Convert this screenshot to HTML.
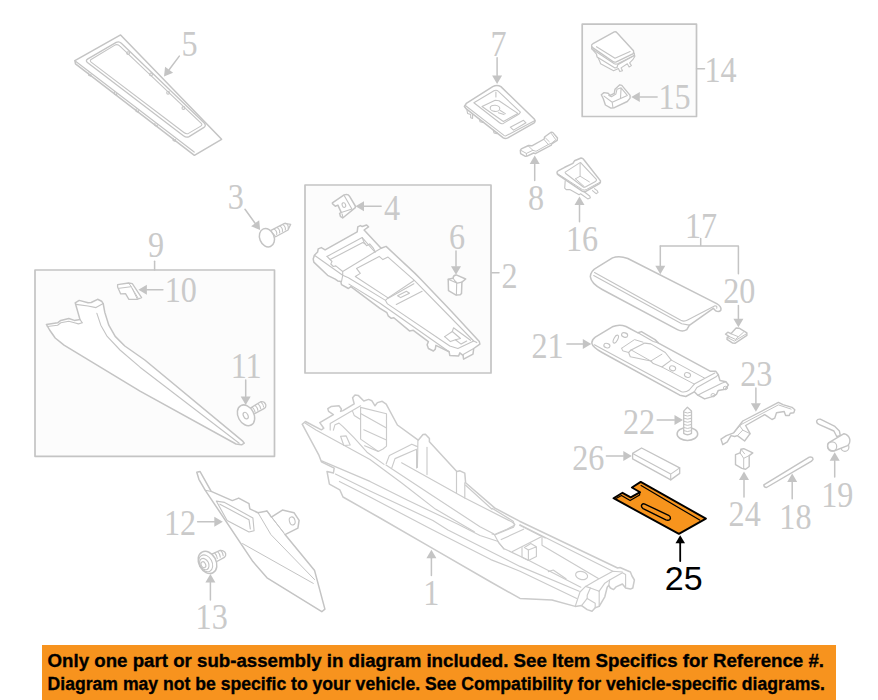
<!DOCTYPE html>
<html lang="en"><head><meta charset="utf-8"><title>Parts diagram</title>
<style>
html,body{margin:0;padding:0;background:#fff;}
body{width:878px;height:700px;overflow:hidden;position:relative;font-family:"Liberation Sans",sans-serif;}
svg{position:absolute;left:0;top:0;display:block;}
svg text{font-family:"Liberation Serif",serif;}
svg path,svg rect,svg circle,svg ellipse{stroke-linejoin:round;stroke-linecap:round;}
.banner{position:absolute;left:42px;top:645px;width:794px;height:55px;background:#f7931e;color:#000;font-family:"Liberation Sans",sans-serif;font-weight:bold;}
.banner svg text{font-family:"Liberation Sans",sans-serif;font-weight:bold;}
</style></head><body>
<svg width="878" height="700" viewBox="0 0 878 700">
<rect x="35" y="270" width="239.5" height="186.3" fill="#fcfcfc" stroke="#c4c4c4" stroke-width="1.7"/>
<rect x="305" y="185" width="186" height="188" fill="#fcfcfc" stroke="#c4c4c4" stroke-width="1.7"/>
<rect x="582.2" y="24.2" width="114.3" height="92.3" fill="#fcfcfc" stroke="#c4c4c4" stroke-width="1.7"/>
<text transform="translate(181.6 56.0) scale(0.92 1)" font-size="35" fill="#cacaca">5</text>
<text transform="translate(490.5 56.0) scale(0.92 1)" font-size="35" fill="#cacaca">7</text>
<text transform="translate(704.5 81.5) scale(0.92 1)" font-size="35" fill="#cacaca">14</text>
<text transform="translate(658.4 109.3) scale(0.92 1)" font-size="35" fill="#cacaca">15</text>
<text transform="translate(227.8 209.0) scale(0.92 1)" font-size="35" fill="#cacaca">3</text>
<text transform="translate(383.9 219.9) scale(0.92 1)" font-size="35" fill="#cacaca">4</text>
<text transform="translate(449.0 248.5) scale(0.92 1)" font-size="35" fill="#cacaca">6</text>
<text transform="translate(501.5 288.0) scale(0.92 1)" font-size="35" fill="#cacaca">2</text>
<text transform="translate(528.1 210.2) scale(0.92 1)" font-size="35" fill="#cacaca">8</text>
<text transform="translate(565.9 251.3) scale(0.92 1)" font-size="35" fill="#cacaca">16</text>
<text transform="translate(685.0 237.7) scale(0.92 1)" font-size="35" fill="#cacaca">17</text>
<text transform="translate(723.2 303.1) scale(0.92 1)" font-size="35" fill="#cacaca">20</text>
<text transform="translate(531.5 358.1) scale(0.92 1)" font-size="35" fill="#cacaca">21</text>
<text transform="translate(147.9 257.2) scale(0.92 1)" font-size="35" fill="#cacaca">9</text>
<text transform="translate(164.7 302.0) scale(0.92 1)" font-size="35" fill="#cacaca">10</text>
<text transform="translate(230.7 377.7) scale(0.92 1)" font-size="35" fill="#cacaca">11</text>
<text transform="translate(163.9 535.2) scale(0.92 1)" font-size="35" fill="#cacaca">12</text>
<text transform="translate(195.6 629.0) scale(0.92 1)" font-size="35" fill="#cacaca">13</text>
<text transform="translate(423.3 605.2) scale(0.92 1)" font-size="35" fill="#cacaca">1</text>
<text transform="translate(623.0 434.1) scale(0.92 1)" font-size="35" fill="#cacaca">22</text>
<text transform="translate(572.2 469.6) scale(0.92 1)" font-size="35" fill="#cacaca">26</text>
<text transform="translate(740.2 386.3) scale(0.92 1)" font-size="35" fill="#cacaca">23</text>
<text transform="translate(728.6 525.6) scale(0.92 1)" font-size="35" fill="#cacaca">24</text>
<text transform="translate(779.3 528.5) scale(0.92 1)" font-size="35" fill="#cacaca">18</text>
<text transform="translate(821.2 507.4) scale(0.92 1)" font-size="35" fill="#cacaca">19</text>
<text transform="translate(664.8 589.7) scale(1 1)" font-size="34" fill="#000" style="font-family:'Liberation Sans',sans-serif">25</text>
<path d="M 613.5 498.2 L 622.5 492.8 L 630.7 497.4 L 640.1 492.2 L 631.9 487.5 L 640.7 481.9 L 705.9 518.6 L 678.9 533.9 Z" fill="#f7941d" stroke="#000" stroke-width="1.9"/>
<path d="M 641.1 485.5 L 699.7 520.1 M 616.5 498.3 L 621.5 495.5 L 630.1 500.6 L 639.6 495.0 L 639.8 492.5" fill="none" stroke="#000" stroke-width="1.2"/>
<path d="M 644.8 504.1 L 668.6 515.3 Q 671.4 517.3 669.9 519.4 Q 668.4 520.9 665.9 519.9 L 643.1 508.6 Q 640.6 506.8 641.8 504.8 Q 643.1 503.3 644.8 504.1 Z" fill="none" stroke="#000" stroke-width="1.4"/>
<path d="M680.2 561.0 L680.2 543.2" stroke="#000" stroke-width="1.8" fill="none"/>
<path d="M680.2 535.2 L685.0 543.2 L675.5 543.2 Z" fill="#000" stroke="none"/>
<path d="M 120.6 34.9 L 74.9 60.7 L 75.5 63.9 L 194.4 155.3 L 221.6 139.3 Z" fill="#fff" stroke="#c4c4c4" stroke-width="1.5"/>
<path d="M 74.9 60.7 L 194.2 152.1" fill="none" stroke="#c4c4c4" stroke-width="1.2"/>
<path d="M 116.2 42.4 Q 119.0 41.0 121.3 43.3 L 204.5 123.3 Q 206.3 125.6 204.0 127.4 L 189.1 136.6 Q 186.4 137.9 183.4 135.7 L 87.4 62.5 Q 85.1 60.7 87.9 58.9 Z" fill="none" stroke="#c4c4c4" stroke-width="1.3"/>
<path d="M 114.9 45.1 Q 117.6 43.8 119.9 46.1 L 201.3 123.3 Q 202.6 125.1 200.8 126.1 L 188.5 133.4 Q 186.2 134.3 183.9 132.5 L 91.1 62.1 Q 89.3 60.7 91.5 59.3 Z" fill="none" stroke="#c4c4c4" stroke-width="1.1"/>
<path d="M 88.6 73.0 l 0.0 2.3 l 2.3 0.9 l 0.0 -1.8" fill="none" stroke="#c4c4c4" stroke-width="1.1"/>
<path d="M 114.4 91.8 l 0.0 2.3 l 2.3 0.9 l 0.0 -1.8" fill="none" stroke="#c4c4c4" stroke-width="1.1"/>
<path d="M 136.1 109.1 l 0.0 2.3 l 2.3 0.9 l 0.0 -1.8" fill="none" stroke="#c4c4c4" stroke-width="1.1"/>
<path d="M 154.9 123.3 l 0.0 2.3 l 2.3 0.9 l 0.0 -1.8" fill="none" stroke="#c4c4c4" stroke-width="1.1"/>
<path d="M 173.1 138.2 l 0.0 2.3 l 2.3 0.9 l 0.0 -1.8" fill="none" stroke="#c4c4c4" stroke-width="1.1"/>
<circle cx="128.1" cy="53.1" r="1.4" fill="none" stroke="#c4c4c4" stroke-width="1.1"/>
<circle cx="151.0" cy="74.4" r="1.4" fill="none" stroke="#c4c4c4" stroke-width="1.1"/>
<circle cx="168.1" cy="92.7" r="1.4" fill="none" stroke="#c4c4c4" stroke-width="1.1"/>
<circle cx="183.4" cy="108.0" r="1.4" fill="none" stroke="#c4c4c4" stroke-width="1.1"/>
<path d="M179.3 56.1 L169.1 69.7" stroke="#c4c4c4" stroke-width="1.5" fill="none"/>
<path d="M164.0 76.5 L165.1 66.7 L173.1 72.7 Z" fill="#c4c4c4" stroke="none"/>
<path d="M 270.5 230.7 L 284.6 223.3 L 290.7 224.3 L 288.0 230.0 L 275.7 236.8 Z" fill="#fff" stroke="#c4c4c4" stroke-width="1.3"/>
<path d="M 274.3 229.1 Q 277.4 231.2 276.7 234.5" fill="none" stroke="#c4c4c4" stroke-width="1.1"/>
<path d="M 277.2 227.6 Q 280.3 229.7 279.6 233.0" fill="none" stroke="#c4c4c4" stroke-width="1.1"/>
<path d="M 280.0 226.1 Q 283.1 228.2 282.4 231.5" fill="none" stroke="#c4c4c4" stroke-width="1.1"/>
<path d="M 282.9 224.6 Q 286.0 226.7 285.3 230.0" fill="none" stroke="#c4c4c4" stroke-width="1.1"/>
<path d="M 285.8 223.1 Q 288.9 225.2 288.2 228.5" fill="none" stroke="#c4c4c4" stroke-width="1.1"/>
<ellipse cx="266.9" cy="237.7" rx="7.2" ry="9.5" transform="rotate(-22 266.9 237.7)" fill="#fff" stroke="#c4c4c4" stroke-width="1.5"/>
<path d="M245.0 209.3 L255.1 223.2" stroke="#c4c4c4" stroke-width="1.5" fill="none"/>
<path d="M260.1 230.1 L251.1 226.2 L259.2 220.3 Z" fill="#c4c4c4" stroke="none"/>
<path d="M 332.4 202.9 L 344.1 194.9 Q 347.9 193.5 349.6 196.3 L 355.3 206.0 L 355.3 207.7 L 342.7 218.0 L 340.4 216.3 L 339.6 213.4 L 341.3 212.6 L 337.9 205.1 L 335.3 206.3 L 332.4 203.6 Z" fill="#fff" stroke="#c4c4c4" stroke-width="1.5"/>
<path d="M 344.3 195.7 L 351.9 209.1 M 341.3 212.6 L 351.9 209.1 M 342.1 214.0 L 342.8 216.9" fill="none" stroke="#c4c4c4" stroke-width="1.1"/>
<ellipse cx="343.9" cy="205.1" rx="1.7" ry="2.4" transform="rotate(-20 343.9 205.1)" fill="none" stroke="#c4c4c4" stroke-width="1.1"/>
<path d="M381.1 206.3 L364.0 206.3" stroke="#c4c4c4" stroke-width="1.5" fill="none"/>
<path d="M355.5 206.3 L364.0 201.3 L364.0 211.3 Z" fill="#c4c4c4" stroke="none"/>
<path d="M313.2 258.9 L314.4 255.2 L317.6 252.0 L318.2 248.9 L321.3 247.6 L325.1 249.9 L357.2 231.9 L357.8 226.9 L360.3 225.6 L362.2 226.5 L366.6 225.0 L368.5 226.9 L364.1 230.0 L381.1 248.3 L386.1 246.4 L415.0 273.4 L421.5 280.0 L450.4 310.2 L479.3 341.6 L479.9 344.1 L473.7 348.5 L473.0 354.2 L463.6 359.2 L463.0 355.4 L459.8 352.9 L458.6 356.1 L449.8 355.4 L449.1 351.7 L435.9 345.4 L435.3 349.1 L433.4 351.0 L428.4 348.5 L427.1 344.7 L428.4 341.6 L413.3 330.3 L409.5 330.9 L393.8 317.7 L391.3 318.3 L388.2 315.8 L386.9 312.7 L380.0 308.3 L350.9 286.6 L348.4 288.5 L341.5 284.7 L340.8 281.6 L337.7 280.9 L335.2 279.1 L327.6 275.3 L313.8 262.1 Z" fill="#fff" stroke="#c4c4c4" stroke-width="1.5"/>
<path d="M327.0 256.4 L362.2 237.6 L374.8 252.0" fill="none" stroke="#c4c4c4" stroke-width="1.1"/>
<path d="M330.1 259.6 L362.8 242.6 L365.3 243.9" fill="none" stroke="#c4c4c4" stroke-width="1.1"/>
<path d="M327.0 256.4 L332.0 261.5 L330.8 264.0 L333.3 266.5 L335.8 265.9 L342.7 271.5" fill="none" stroke="#c4c4c4" stroke-width="1.1"/>
<path d="M362.2 237.6 L364.1 242.6 L366.6 245.7 L369.7 243.9 L372.9 247.6 L375.4 252.0" fill="none" stroke="#c4c4c4" stroke-width="1.1"/>
<path d="M314.4 255.2 L342.7 275.3 L342.7 271.5 L374.8 252.0 L381.1 248.3" fill="none" stroke="#c4c4c4" stroke-width="1.1"/>
<path d="M355.3 276.5 L360.3 273.4 L356.5 268.4 L379.2 256.4 L382.9 259.6 L388.0 257.1 L414.4 280.3 L388.0 297.9 Z" fill="none" stroke="#c4c4c4" stroke-width="1.1"/>
<path d="M342.7 275.3 L348.4 277.8 L385.5 300.4 L387.5 303.9 L449.8 346.0 L457.9 348.5 L473.7 341.0" fill="none" stroke="#c4c4c4" stroke-width="1.1"/>
<path d="M388.0 297.9 L385.5 300.4" fill="none" stroke="#c4c4c4" stroke-width="1.1"/>
<path d="M342.7 275.3 L341.5 281.6" fill="none" stroke="#c4c4c4" stroke-width="1.1"/>
<path d="M388.2 298.2 L413.9 283.8" fill="none" stroke="#c4c4c4" stroke-width="1.1"/>
<path d="M396.3 304.5 L422.1 291.3" fill="none" stroke="#c4c4c4" stroke-width="1.1"/>
<path d="M397.6 295.7 L406.4 291.3 L409.5 293.2 L400.7 297.6 Z" fill="none" stroke="#c4c4c4" stroke-width="1.1"/>
<path d="M414.6 280.6 L473.7 341.0 L476.8 342.6" fill="none" stroke="#c4c4c4" stroke-width="1.1"/>
<path d="M349.0 284.1 L380.0 303.3 L449.1 351.7" fill="none" stroke="#c4c4c4" stroke-width="1.1"/>
<path d="M444.7 336.6 L452.3 331.5 L453.5 327.8 L470.5 340.3" fill="none" stroke="#c4c4c4" stroke-width="1.1"/>
<path d="M444.7 336.6 L450.4 341.6 L455.4 339.7 L461.1 344.1 L466.7 341.0" fill="none" stroke="#c4c4c4" stroke-width="1.1"/>
<path d="M452.3 331.5 L460.5 338.5 L455.4 339.7" fill="none" stroke="#c4c4c4" stroke-width="1.1"/>
<path d="M473.7 348.5 L463.6 354.2 L463.0 355.4" fill="none" stroke="#c4c4c4" stroke-width="1.1"/>
<path d="M 448.2 279.3 L 453.0 278.2 Q 453.3 275.0 456.2 274.9 L 465.7 279.0 L 461.9 282.1 L 461.5 293.4 L 460.2 294.8 L 456.1 295.1 L 448.5 290.7 Z" fill="#fff" stroke="#c4c4c4" stroke-width="1.5"/>
<path d="M 453.3 278.3 Q 454.0 280.5 457.4 283.1 L 461.9 282.1 M 456.7 283.1 L 456.4 294.9 M 448.2 279.3 L 456.7 283.1" fill="none" stroke="#c4c4c4" stroke-width="1.1"/>
<path d="M456.0 250.9 L456.0 266.2" stroke="#c4c4c4" stroke-width="1.5" fill="none"/>
<path d="M456.0 274.7 L451.0 266.2 L461.0 266.2 Z" fill="#c4c4c4" stroke="none"/>
<path d="M491.5 272.8 L499.0 272.8" stroke="#c4c4c4" stroke-width="1.5" fill="none"/>
<path d="M497.1 57.7 L497.1 75.5" stroke="#c4c4c4" stroke-width="1.5" fill="none"/>
<path d="M497.1 84.0 L492.1 75.5 L502.1 75.5 Z" fill="#c4c4c4" stroke="none"/>
<path d="M 464.4 106.5 L 466.3 103.3 L 492.7 86.6 Q 497.1 84.3 500.9 86.6 L 534.5 119.3 Q 535.7 121.3 534.2 122.8 L 507.8 137.9 Q 505.3 139.1 503.3 137.9 L 466.6 109.2 Z" fill="#fff" stroke="#c4c4c4" stroke-width="1.5"/>
<path d="M 465.3 105.5 L 504.3 135.6 Q 505.3 136.3 506.5 135.6 L 535.0 120.5" fill="none" stroke="#c4c4c4" stroke-width="1.1"/>
<path d="M 466.9 110.0 L 467.6 113.4 L 470.7 114.6 L 470.7 117.8 L 472.6 118.4 L 472.6 114.3 M 479.5 119.3 L 480.1 121.8 L 482.9 122.5 L 482.9 121.5 M 493.3 130.1 L 494.0 132.9 L 497.1 133.6 L 497.1 132.6" fill="none" stroke="#c4c4c4" stroke-width="1.1"/>
<path d="M 473.9 102.7 L 494.0 90.7 Q 496.5 89.5 498.4 91.4 L 520.4 112.1 L 519.1 114.0 L 503.4 123.4 Q 501.5 124.3 499.6 122.8 Z" fill="none" stroke="#c4c4c4" stroke-width="1.1"/>
<path d="M 482.0 106.5 L 495.2 100.2 L 499.0 100.8 L 517.9 113.4 L 503.4 121.5 Z" fill="none" stroke="#c4c4c4" stroke-width="1.1"/>
<ellipse cx="495.0" cy="108.3" rx="4.8" ry="3.1" transform="rotate(5 495.0 108.3)" fill="none" stroke="#c4c4c4" stroke-width="1.1"/>
<path d="M 498.4 112.7 L 504.0 114.6 M 500.3 110.5 L 505.3 113.6 M 495.9 92.0 L 495.9 97.0" fill="none" stroke="#c4c4c4" stroke-width="1.1"/>
<path d="M 510.3 127.2 L 523.5 120.3 L 526.0 122.8 L 513.5 130.1 Z" fill="none" stroke="#c4c4c4" stroke-width="1.1"/>
<path d="M 520.3 150.3 L 521.3 148.9 L 528.5 145.5 L 531.9 145.8 L 544.2 139.0 L 544.5 137.0 L 551.0 132.2 L 552.7 132.4 L 557.5 138.0 L 557.2 140.4 L 551.7 143.8 L 551.3 145.2 L 535.3 153.7 L 533.6 153.0 L 527.1 156.1 L 525.4 156.4 L 520.6 153.7 Z" fill="#fff" stroke="#c4c4c4" stroke-width="1.4"/>
<path d="M 521.3 150.6 L 526.4 153.4 L 532.9 150.3 L 528.5 146.2 M 532.9 150.3 L 536.0 151.3 L 548.3 144.5 L 544.2 139.7 M 548.3 144.5 L 551.7 143.1 L 555.8 139.7 L 551.3 133.5 M 545.5 138.0 L 549.3 141.7 M 526.4 153.4 L 526.4 155.9" fill="none" stroke="#c4c4c4" stroke-width="1.0"/>
<path d="M534.7 180.6 L534.7 163.9" stroke="#c4c4c4" stroke-width="1.5" fill="none"/>
<path d="M534.7 155.4 L539.7 163.9 L529.7 163.9 Z" fill="#c4c4c4" stroke="none"/>
<path d="M 565.2 180.9 L 564.7 188.1 L 566.2 189.6 L 569.8 189.6 L 579.1 194.7 L 580.6 193.7 L 587.8 198.9 L 590.4 197.8 L 589.9 196.3 L 584.2 191.7 M 592.5 190.6 L 596.1 193.7 L 598.1 192.4 L 597.1 190.6 L 594.5 188.6" fill="#fff" stroke="#c4c4c4" stroke-width="1.1"/>
<path d="M 557.0 172.4 Q 557.0 171.1 558.5 170.6 L 564.7 167.3 L 572.9 163.4 L 574.5 160.8 L 581.1 158.0 Q 582.7 158.0 583.7 159.5 L 600.5 180.9 Q 600.9 182.9 599.1 183.9 L 586.3 191.1 Q 584.2 192.2 582.2 191.1 L 558.5 175.2 Q 557.0 174.2 557.0 172.4 Z" fill="#fff" stroke="#c4c4c4" stroke-width="1.5"/>
<path d="M 565.2 172.1 L 579.6 162.9 Q 580.6 162.3 581.3 163.4 L 596.4 179.3 Q 596.8 180.7 595.5 181.4 L 585.3 187.0 Q 584.0 187.5 583.0 186.8 L 565.7 173.5 Q 564.9 172.6 565.2 172.1 Z" fill="none" stroke="#c4c4c4" stroke-width="1.1"/>
<path d="M 580.1 163.4 L 580.1 176.2 M 575.5 178.8 L 580.1 176.2 L 589.4 181.9 M 575.5 178.8 L 584.2 186.5 M 558.0 173.9 L 582.4 189.6 Q 584.2 190.6 586.3 189.6 L 600.2 182.1" fill="none" stroke="#c4c4c4" stroke-width="1.0"/>
<path d="M579.5 221.7 L579.5 205.1" stroke="#c4c4c4" stroke-width="1.5" fill="none"/>
<path d="M579.5 196.6 L584.5 205.1 L574.5 205.1 Z" fill="#c4c4c4" stroke="none"/>
<path d="M 599.9 61.8 L 600.6 63.8 L 613.6 70.7 L 616.8 69.3 L 618.4 68.6 L 619.8 71.6 L 622.5 70.7 L 621.1 67.9 L 627.3 63.8 L 629.1 67.0 L 631.4 65.6 L 629.6 62.9 L 632.8 59.7 L 634.9 56.3 L 634.2 53.3 L 596.5 54.2 Z" fill="#fff" stroke="#c4c4c4" stroke-width="1.1"/>
<path d="M 591.7 48.7 L 596.5 54.2 L 597.1 57.0 L 615.0 67.9 L 617.0 67.5 L 617.7 64.8 L 634.2 55.6 L 634.2 53.3 L 591.7 46.0 Z" fill="#fff" stroke="#c4c4c4" stroke-width="1.2"/>
<path d="M 591.7 46.0 Q 591.2 44.6 593.0 43.7 L 614.3 31.9 Q 615.9 31.3 617.0 32.7 L 633.5 50.8 Q 634.2 52.9 632.8 53.8 L 616.3 61.8 Q 614.3 62.5 612.9 61.5 L 592.3 47.4 Z" fill="#fff" stroke="#c4c4c4" stroke-width="1.4"/>
<path d="M 591.7 48.7 L 614.3 63.8 Q 615.9 64.5 617.7 63.8 L 634.2 55.6 M 596.5 46.7 L 615.0 58.3 L 630.1 51.5" fill="none" stroke="#c4c4c4" stroke-width="1.1"/>
<path d="M 601.3 94.7 L 604.0 92.6 L 608.1 93.3 L 610.2 95.4 L 614.3 93.3 L 615.0 89.2 L 619.8 84.8 L 621.8 85.4 L 630.1 95.4 L 630.1 98.1 L 627.3 101.5 L 614.3 107.7 L 610.9 108.1 L 605.4 105.0 L 603.3 98.8 Z" fill="#fff" stroke="#c4c4c4" stroke-width="1.4"/>
<path d="M 604.0 96.1 L 612.2 102.2 L 627.3 95.4 L 621.1 87.8 L 617.0 89.2 L 615.9 94.0 L 611.5 96.7 L 608.8 95.4 M 621.1 87.8 L 620.5 98.1 M 612.2 102.2 L 612.9 107.3" fill="none" stroke="#c4c4c4" stroke-width="1.1"/>
<path d="M657.1 96.9 L639.8 96.9" stroke="#c4c4c4" stroke-width="1.5" fill="none"/>
<path d="M631.3 96.9 L639.8 91.9 L639.8 101.9 Z" fill="#c4c4c4" stroke="none"/>
<path d="M696.5 68.7 L704.5 68.7" stroke="#c4c4c4" stroke-width="1.5" fill="none"/>
<path d="M 590.3 276.7 Q 590.6 270.8 597.1 267.3 L 612.5 257.9 Q 619.3 255.4 627.8 258.5 L 716.7 303.6 Q 721.8 306.6 720.9 310.0 Q 719.2 312.6 715.8 310.9 L 713.3 308.3 L 689.3 325.4 L 686.8 329.7 Q 682.5 332.3 677.4 329.7 L 602.2 289.5 Q 591.1 283.6 590.3 276.7 Z" fill="#fff" stroke="#c4c4c4" stroke-width="1.5"/>
<path d="M 594.5 272.5 L 680.8 320.3 Q 684.2 322.0 687.6 320.0 L 715.0 305.8 Q 717.5 305.8 716.7 308.3 M 593.7 275.5 L 681.7 323.7 L 689.3 325.1" fill="none" stroke="#c4c4c4" stroke-width="1.1"/>
<path d="M 660.3 246.1 L 738.4 246.1 L 738.4 273.7 M 700.7 238.6 L 700.7 246.1" fill="none" stroke="#c4c4c4" stroke-width="1.5"/>
<path d="M660.3 246.1 L660.3 265.8" stroke="#c4c4c4" stroke-width="1.5" fill="none"/>
<path d="M660.3 274.3 L655.3 265.8 L665.3 265.8 Z" fill="#c4c4c4" stroke="none"/>
<path d="M738.4 305.5 L738.4 318.7" stroke="#c4c4c4" stroke-width="1.5" fill="none"/>
<path d="M738.4 327.2 L733.4 318.7 L743.4 318.7 Z" fill="#c4c4c4" stroke="none"/>
<path d="M 725.5 334.2 L 727.8 332.2 L 730.9 333.7 L 736.1 328.0 L 739.5 328.3 L 746.9 332.8 L 746.9 335.4 L 734.9 343.3 L 732.7 343.1 L 727.0 339.4 L 727.2 337.4 L 729.2 336.5 Z" fill="#fff" stroke="#c4c4c4" stroke-width="1.4"/>
<path d="M 729.2 336.5 L 735.5 339.4 L 743.5 332.2 M 730.9 333.7 L 737.8 336.5 M 727.2 337.4 L 734.4 341.1 L 746.6 333.7" fill="none" stroke="#c4c4c4" stroke-width="1.0"/>
<path d="M566.9 344.1 L582.8 344.1" stroke="#c4c4c4" stroke-width="1.5" fill="none"/>
<path d="M591.3 344.1 L582.8 349.1 L582.8 339.1 Z" fill="#c4c4c4" stroke="none"/>
<path d="M 591.8 343.1 Q 591.8 339.6 595.3 337.1 L 612.3 326.8 Q 619.2 323.8 626.0 326.5 L 638.0 332.8 L 641.4 331.6 L 655.0 339.6 L 658.5 343.1 L 710.6 371.3 L 715.7 371.3 L 718.3 374.7 L 720.0 380.6 L 725.9 381.8 L 728.5 384.9 L 725.1 389.2 L 718.3 390.4 L 716.5 394.3 L 711.4 396.9 L 704.6 398.9 L 697.8 395.2 L 694.3 391.8 L 685.8 396.5 L 679.8 395.2 L 602.1 352.5 Q 592.7 347.3 591.8 343.1 Z" fill="#fff" stroke="#c4c4c4" stroke-width="1.5"/>
<path d="M 594.4 344.8 L 681.5 391.8 Q 685.8 392.6 689.2 390.0 L 694.3 384.1 L 714.8 373.0 M 694.3 391.8 L 696.9 387.5 L 716.5 376.4 L 718.3 374.7 M 697.8 395.2 L 702.9 392.6 L 721.7 383.2 L 725.9 381.8 M 638.0 332.8 L 653.3 341.4 L 658.5 343.1" fill="none" stroke="#c4c4c4" stroke-width="1.1"/>
<path d="M 628.6 352.5 L 631.1 349.9 L 644.8 343.1 L 650.8 343.9 L 665.3 352.5 L 671.3 360.1 L 661.9 367.0 L 653.3 363.6 L 650.8 361.0 L 630.3 356.7 Z" fill="none" stroke="#c4c4c4" stroke-width="1.1"/>
<path d="M 631.1 349.9 L 650.8 361.0 L 661.9 354.2 M 621.7 348.2 L 634.5 339.6 L 643.1 342.2 M 621.7 348.2 L 622.6 350.8 L 628.6 352.5 M 661.9 367.0 L 694.3 384.1 M 671.3 360.1 L 704.6 378.1" fill="none" stroke="#c4c4c4" stroke-width="1.0"/>
<ellipse cx="606.9" cy="345.6" rx="3.1" ry="2.2" transform="rotate(15 606.9 345.6)" fill="none" stroke="#c4c4c4" stroke-width="1.1"/>
<ellipse cx="615.8" cy="339.1" rx="1.9" ry="4.3" transform="rotate(28 615.8 339.1)" fill="none" stroke="#c4c4c4" stroke-width="1.1"/>
<ellipse cx="624.6" cy="335.0" rx="3.1" ry="2.2" transform="rotate(15 624.6 335.0)" fill="none" stroke="#c4c4c4" stroke-width="1.1"/>
<ellipse cx="672.6" cy="368.3" rx="3.1" ry="2.4" transform="rotate(15 672.6 368.3)" fill="none" stroke="#c4c4c4" stroke-width="1.1"/>
<ellipse cx="687.5" cy="375.0" rx="3.1" ry="2.4" transform="rotate(15 687.5 375.0)" fill="none" stroke="#c4c4c4" stroke-width="1.1"/>
<ellipse cx="713.1" cy="395.2" rx="2.1" ry="1.7" transform="rotate(0 713.1 395.2)" fill="none" stroke="#c4c4c4" stroke-width="1.0"/>
<ellipse cx="725.4" cy="388.0" rx="2.1" ry="1.7" transform="rotate(0 725.4 388.0)" fill="none" stroke="#c4c4c4" stroke-width="1.0"/>
<ellipse cx="687.4" cy="433.9" rx="10.3" ry="6.5" transform="rotate(0 687.4 433.9)" fill="#fff" stroke="#c4c4c4" stroke-width="1.5"/>
<path d="M 683.7 433.4 L 683.7 411.1 L 687.4 407.3 L 691.5 411.1 L 691.5 433.4 Q 687.4 436.1 683.7 433.4 Z" fill="#fff" stroke="#c4c4c4" stroke-width="1.3"/>
<path d="M 683.9 412.1 Q 687.4 414.1 691.4 412.1" fill="none" stroke="#c4c4c4" stroke-width="1.0"/>
<path d="M 683.9 415.2 Q 687.4 417.1 691.4 415.2" fill="none" stroke="#c4c4c4" stroke-width="1.0"/>
<path d="M 683.9 418.3 Q 687.4 420.2 691.4 418.3" fill="none" stroke="#c4c4c4" stroke-width="1.0"/>
<path d="M 683.9 421.4 Q 687.4 423.3 691.4 421.4" fill="none" stroke="#c4c4c4" stroke-width="1.0"/>
<path d="M 683.9 424.5 Q 687.4 426.4 691.4 424.5" fill="none" stroke="#c4c4c4" stroke-width="1.0"/>
<path d="M 683.9 427.6 Q 687.4 429.5 691.4 427.6" fill="none" stroke="#c4c4c4" stroke-width="1.0"/>
<path d="M 683.9 430.7 Q 687.4 432.6 691.4 430.7" fill="none" stroke="#c4c4c4" stroke-width="1.0"/>
<path d="M657.2 420.0 L674.5 420.0" stroke="#c4c4c4" stroke-width="1.5" fill="none"/>
<path d="M683.0 420.0 L674.5 425.0 L674.5 415.0 Z" fill="#c4c4c4" stroke="none"/>
<path d="M 632.6 453.4 L 641.6 448.0 L 679.7 467.9 L 679.7 473.4 L 670.7 479.9 L 632.6 458.9 Z" fill="#fff" stroke="#c4c4c4" stroke-width="1.3"/>
<path d="M 632.6 453.4 L 670.7 474.1 L 679.7 467.9 M 670.7 474.1 L 670.7 479.9" fill="none" stroke="#c4c4c4" stroke-width="1.1"/>
<path d="M606.4 456.0 L623.3 456.0" stroke="#c4c4c4" stroke-width="1.5" fill="none"/>
<path d="M631.8 456.0 L623.3 461.0 L623.3 451.0 Z" fill="#c4c4c4" stroke="none"/>
<path d="M 721.0 439.2 L 726.4 435.6 L 733.7 432.8 L 742.8 421.0 L 778.4 402.4 L 782.9 404.6 L 792.0 407.3 L 794.8 409.7 L 793.8 412.8 L 790.2 413.3 L 789.3 415.5 L 785.6 415.5 L 784.2 411.5 L 776.5 412.8 L 774.7 418.2 L 772.0 419.5 L 767.4 416.4 L 764.7 414.6 L 745.6 425.5 L 750.1 433.7 L 744.6 441.0 L 737.4 435.6 L 734.6 436.5 L 731.0 435.6 L 727.3 441.9 L 722.8 444.7 Z" fill="#fff" stroke="#c4c4c4" stroke-width="1.4"/>
<path d="M 737.4 435.6 L 742.8 430.1 L 750.1 433.7 M 742.8 430.1 L 740.1 426.4 M 733.7 432.8 L 741.0 424.6 L 778.4 404.9 L 791.1 409.1" fill="none" stroke="#c4c4c4" stroke-width="1.0"/>
<path d="M755.9 388.1 L755.9 403.2" stroke="#c4c4c4" stroke-width="1.5" fill="none"/>
<path d="M755.9 411.7 L750.9 403.2 L760.9 403.2 Z" fill="#c4c4c4" stroke="none"/>
<path d="M 735.5 454.7 L 740.1 452.9 L 741.0 449.2 L 743.7 448.7 L 752.8 452.9 L 749.2 455.6 L 749.2 466.5 L 745.6 469.3 L 741.9 468.4 L 735.5 464.7 Z" fill="#fff" stroke="#c4c4c4" stroke-width="1.4"/>
<path d="M 740.1 452.9 L 743.7 458.3 L 743.7 468.7 M 743.7 458.3 L 749.2 455.6 M 741.0 449.2 L 744.6 453.8" fill="none" stroke="#c4c4c4" stroke-width="1.0"/>
<path d="M744.0 497.0 L744.0 480.1" stroke="#c4c4c4" stroke-width="1.5" fill="none"/>
<path d="M744.0 471.6 L749.0 480.1 L739.0 480.1 Z" fill="#c4c4c4" stroke="none"/>
<path d="M 763.8 484.8 L 809.3 457.1 Q 813.0 456.5 813.0 459.6 L 811.2 461.4 L 766.5 487.5 Q 763.8 487.5 763.8 484.8 Z" fill="#fff" stroke="#c4c4c4" stroke-width="1.4"/>
<path d="M792.2 498.8 L792.2 481.9" stroke="#c4c4c4" stroke-width="1.5" fill="none"/>
<path d="M792.2 473.4 L797.2 481.9 L787.2 481.9 Z" fill="#c4c4c4" stroke="none"/>
<path d="M 816.6 421.0 Q 817.5 418.8 820.3 419.2 L 834.9 426.4 L 839.4 431.0 L 840.3 435.6 L 836.7 436.5 L 833.9 431.0 L 819.4 424.6 Q 816.6 423.7 816.6 421.0 Z" fill="#fff" stroke="#c4c4c4" stroke-width="1.4"/>
<ellipse cx="844.9" cy="446.9" rx="4.0" ry="4.4" transform="rotate(0 844.9 446.9)" fill="#fff" stroke="#c4c4c4" stroke-width="1.2"/>
<path d="M 828.5 442.8 L 844.0 433.7 Q 848.5 434.6 849.8 439.2 Q 850.3 443.8 847.6 445.6 L 833.9 451.0 Q 828.5 451.0 827.6 446.5 Q 827.2 443.8 828.5 442.8 Z" fill="#fff" stroke="#c4c4c4" stroke-width="1.4"/>
<ellipse cx="832.1" cy="446.5" rx="4.6" ry="4.6" transform="rotate(0 832.1 446.5)" fill="none" stroke="#c4c4c4" stroke-width="1.2"/>
<path d="M834.7 477.0 L834.7 460.8" stroke="#c4c4c4" stroke-width="1.5" fill="none"/>
<path d="M834.7 452.3 L839.7 460.8 L829.7 460.8 Z" fill="#c4c4c4" stroke="none"/>
<path d="M 196.8 472.3 L 200.1 471.6 L 211.2 491.4 L 232.3 500.6 L 238.7 498.1 L 249.0 503.7 L 249.8 508.9 L 258.0 512.7 L 267.0 510.9 L 271.4 517.1 L 282.4 510.1 L 294.0 512.7 L 299.1 520.4 L 297.9 528.1 L 285.0 534.6 L 314.6 570.6 L 324.9 609.1 L 321.8 611.7 L 267.0 577.8 L 252.9 561.6 L 205.3 490.3 L 198.9 479.3 Z" fill="#fff" stroke="#c4c4c4" stroke-width="1.5"/>
<path d="M 216.3 501.1 L 224.6 502.4 L 252.9 517.9 L 254.1 530.7 L 249.0 532.0 L 227.1 520.4 Z M 219.9 504.2 L 249.0 519.7 L 250.3 528.9" fill="none" stroke="#c4c4c4" stroke-width="1.1"/>
<path d="M 242.6 543.6 L 313.3 583.4 M 258.0 512.7 L 270.9 534.6 L 314.6 579.6 M 267.0 510.9 L 285.0 534.6 M 205.3 490.3 L 211.2 491.4 M 271.4 517.1 L 283.7 532.5" fill="none" stroke="#c4c4c4" stroke-width="1.0"/>
<ellipse cx="292.2" cy="520.9" rx="2.8" ry="4.1" transform="rotate(-15 292.2 520.9)" fill="none" stroke="#c4c4c4" stroke-width="1.1"/>
<path d="M197.6 521.7 L214.3 521.7" stroke="#c4c4c4" stroke-width="1.5" fill="none"/>
<path d="M222.8 521.7 L214.3 526.7 L214.3 516.7 Z" fill="#c4c4c4" stroke="none"/>
<path d="M 211.3 554.4 L 220.1 550.4 Q 224.4 550.3 225.7 553.7 Q 226.1 556.3 224.4 557.4 L 217.3 561.3" fill="#fff" stroke="#c4c4c4" stroke-width="1.3"/>
<path d="M 214.7 553.0 Q 217.0 555.3 217.3 558.5" fill="none" stroke="#c4c4c4" stroke-width="1.1"/>
<path d="M 217.7 551.7 Q 220.0 553.9 220.3 557.1" fill="none" stroke="#c4c4c4" stroke-width="1.1"/>
<path d="M 220.7 550.3 Q 222.9 552.6 223.2 555.7" fill="none" stroke="#c4c4c4" stroke-width="1.1"/>
<ellipse cx="207.5" cy="562.4" rx="8.6" ry="11.7" transform="rotate(-28 207.5 562.4)" fill="#fff" stroke="#c4c4c4" stroke-width="1.5"/>
<ellipse cx="205.7" cy="563.3" rx="6.4" ry="8.9" transform="rotate(-28 205.7 563.3)" fill="none" stroke="#c4c4c4" stroke-width="1.1"/>
<ellipse cx="204.3" cy="564.1" rx="4.3" ry="6.0" transform="rotate(-28 204.3 564.1)" fill="none" stroke="#c4c4c4" stroke-width="1.1"/>
<ellipse cx="203.4" cy="564.7" rx="2.2" ry="3.1" transform="rotate(-28 203.4 564.7)" fill="none" stroke="#c4c4c4" stroke-width="1.1"/>
<path d="M210.4 600.1 L210.4 582.4" stroke="#c4c4c4" stroke-width="1.5" fill="none"/>
<path d="M210.4 573.9 L215.4 582.4 L205.4 582.4 Z" fill="#c4c4c4" stroke="none"/>
<path d="M46.4 324.4 L57.6 322.8 L60.8 320.4 L68.8 318.5 L74.4 320.4 L80.0 319.6 L75.2 302.8 L79.2 300.4 L88.0 302.8 L91.2 302.5 L97.6 299.3 L101.6 301.2 L103.2 303.6 L104.8 312.4 L108.8 325.2 L115.2 336.4 L124.8 346.0 L144.8 360.0 L242.4 440.8 L244.3 443.2 L241.6 444.8 L236.0 444.0 L140.0 391.2 L64.0 345.2 L55.2 338.0 L49.6 330.0 Z" fill="#fff" stroke="#c4c4c4" stroke-width="1.5"/>
<path d="M47.2 326.5 L57.6 325.2 L60.8 322.8 L68.8 321.2 L74.4 322.8 L78.4 323.9 L82.4 322.8 L80.0 319.6" fill="none" stroke="#c4c4c4" stroke-width="1.1"/>
<path d="M76.0 304.4 L88.0 306.0 L96.0 307.6 L103.2 303.6" fill="none" stroke="#c4c4c4" stroke-width="1.1"/>
<path d="M96.8 313.2 L100.8 325.2 L107.2 336.4 L120.0 350.0 L140.0 367.2 L239.2 443.2" fill="none" stroke="#c4c4c4" stroke-width="1.1"/>
<path d="M 117.6 284.7 L 128.6 283.0 L 132.3 283.7 L 141.6 297.7 L 137.1 299.4 L 128.9 299.4 L 125.5 293.6 L 120.7 293.9 L 117.6 287.1 Z" fill="#fff" stroke="#c4c4c4" stroke-width="1.3"/>
<path d="M 119.0 288.3 L 131.3 286.7 L 128.6 283.0 M 131.3 286.7 L 137.3 299.0 M 132.3 288.5 L 137.8 297.7" fill="none" stroke="#c4c4c4" stroke-width="1.0"/>
<path d="M162.9 289.7 L146.9 289.7" stroke="#c4c4c4" stroke-width="1.5" fill="none"/>
<path d="M138.4 289.7 L146.9 284.7 L146.9 294.7 Z" fill="#c4c4c4" stroke="none"/>
<path d="M154.6 261.2 L154.6 270.0" stroke="#c4c4c4" stroke-width="1.5" fill="none"/>
<path d="M 250.1 408.3 L 260.7 401.7 Q 264.4 401.2 265.7 404.4 Q 266.3 407.3 264.4 408.3 L 254.7 413.6" fill="#fff" stroke="#c4c4c4" stroke-width="1.3"/>
<path d="M 252.4 407.3 Q 254.7 409.3 255.0 412.1" fill="none" stroke="#c4c4c4" stroke-width="1.1"/>
<path d="M 255.3 405.6 Q 257.6 407.6 257.9 410.4" fill="none" stroke="#c4c4c4" stroke-width="1.1"/>
<path d="M 258.1 403.9 Q 260.4 405.9 260.7 408.7" fill="none" stroke="#c4c4c4" stroke-width="1.1"/>
<path d="M 261.0 402.1 Q 263.3 404.1 263.6 407.0" fill="none" stroke="#c4c4c4" stroke-width="1.1"/>
<ellipse cx="246.0" cy="415.3" rx="7.9" ry="11.0" transform="rotate(-28 246.0 415.3)" fill="#fff" stroke="#c4c4c4" stroke-width="1.5"/>
<ellipse cx="245.7" cy="415.6" rx="2.2" ry="3.5" transform="rotate(-28 245.7 415.6)" fill="none" stroke="#c4c4c4" stroke-width="1.2"/>
<path d="M245.7 380.0 L245.7 396.4" stroke="#c4c4c4" stroke-width="1.5" fill="none"/>
<path d="M245.7 404.9 L240.7 396.4 L250.7 396.4 Z" fill="#c4c4c4" stroke="none"/>
<path d="M302.2 424.2 L305.4 421.5 L321.4 429.8 L323.8 428.2 L319.8 422.6 L333.4 414.6 L328.6 411.4 L327.8 408.7 L331.0 406.6 L339.0 405.8 L341.4 409.0 L340.6 411.4 L343.0 410.6 L354.2 403.9 L352.6 397.8 L355.0 394.9 L358.2 395.4 L363.8 401.0 L368.6 399.4 L371.8 400.7 L375.0 405.8 L377.4 402.6 L382.2 401.3 L386.2 404.2 L397.4 425.0 L418.2 440.2 L423.0 434.6 L425.4 434.3 L429.4 438.6 L429.4 441.8 L456.8 471.6 L460.0 470.8 L464.8 473.2 L465.6 482.8 L495.2 508.4 L494.0 507.6 L519.6 521.2 L617.6 568.0 L620.0 567.5 L630.4 572.0 L632.0 576.0 L634.4 580.0 L632.8 588.0 L630.4 589.1 L625.6 588.0 L622.4 584.0 L616.0 586.9 L613.6 589.6 L610.4 588.0 L608.8 585.3 L607.2 587.2 L604.8 596.8 L599.2 606.4 L595.2 607.7 L592.0 611.2 L587.2 609.6 L581.6 605.6 L575.2 606.4 L552.0 600.0 L520.0 598.4 L490.8 582.0 L430.0 546.8 L380.0 518.0 L343.0 497.0 L339.8 489.8 L329.4 484.2 L327.0 471.4 L333.4 473.0 L334.2 468.2 L321.4 461.8 L319.0 455.4 Z" fill="#fff" stroke="#cbcbcb" stroke-width="1.5"/>
<path d="M305.0 423.0 L316.0 430.0 L370.0 459.5 L401.4 482.7 L435.4 509.1 L474.3 531.7" fill="none" stroke="#cbcbcb" stroke-width="1.15"/>
<path d="M386.0 465.0 L430.0 494.0 L480.0 526.7 L494.0 534.0 L498.8 542.8 L503.6 548.4 L528.0 560.0 L580.8 587.2" fill="none" stroke="#cbcbcb" stroke-width="1.15"/>
<path d="M321.7 460.9 L370.0 481.4 L407.7 500.3 L458.0 524.2 L480.0 535.5 L497.6 541.2 L504.0 549.2" fill="none" stroke="#cbcbcb" stroke-width="1.15"/>
<path d="M335.4 474.0 L370.0 490.9 L432.9 520.4 L448.0 530.0 L520.0 566.4 L579.2 591.2" fill="none" stroke="#cbcbcb" stroke-width="1.15"/>
<path d="M339.4 481.4 L370.0 497.1 L430.0 528.4 L490.8 559.6 L520.0 571.2 L576.8 598.4" fill="none" stroke="#cbcbcb" stroke-width="1.15"/>
<path d="M330.2 430.1 L330.2 423.4 L360.6 405.8" fill="none" stroke="#cbcbcb" stroke-width="1.15"/>
<path d="M333.4 430.1 L335.0 424.7 L339.0 423.1 L343.0 426.6 L354.2 437.8 L367.0 452.2 L384.0 464.4" fill="none" stroke="#cbcbcb" stroke-width="1.15"/>
<path d="M352.6 411.4 L354.2 415.4 L360.6 419.4 L360.6 439.1 L378.2 451.4 L383.0 449.0 L386.5 446.1 L386.5 413.8 L360.6 407.4 L360.6 419.4" fill="none" stroke="#cbcbcb" stroke-width="1.15"/>
<path d="M360.6 413.5 L386.5 427.9" fill="none" stroke="#cbcbcb" stroke-width="1.15"/>
<path d="M363.8 429.8 L385.9 439.7" fill="none" stroke="#cbcbcb" stroke-width="1.15"/>
<path d="M364.6 445.8 L378.2 451.4" fill="none" stroke="#cbcbcb" stroke-width="1.15"/>
<path d="M340.6 436.2 L346.2 435.9 L350.2 445.0 L343.8 445.5 Z" fill="none" stroke="#cbcbcb" stroke-width="1.15"/>
<path d="M386.2 463.7 L389.4 455.4 L411.8 444.2 L417.4 446.6" fill="none" stroke="#cbcbcb" stroke-width="1.15"/>
<path d="M391.8 467.9 L395.0 458.6 L416.6 449.3 L416.6 467.9" fill="none" stroke="#cbcbcb" stroke-width="1.15"/>
<path d="M417.9 440.7 L417.4 467.4" fill="none" stroke="#cbcbcb" stroke-width="1.15"/>
<path d="M427.0 447.4 L427.0 474.6" fill="none" stroke="#cbcbcb" stroke-width="1.15"/>
<path d="M401.6 462.8 L464.8 498.0 L512.0 522.0 L514.9 524.4 L513.6 527.1 L495.2 534.8 L492.0 534.0" fill="none" stroke="#cbcbcb" stroke-width="1.15"/>
<path d="M456.5 472.4 L456.5 492.4" fill="none" stroke="#cbcbcb" stroke-width="1.15"/>
<path d="M464.8 482.8 L464.8 498.0" fill="none" stroke="#cbcbcb" stroke-width="1.15"/>
<path d="M465.6 485.2 L492.0 509.2 L492.4 508.4 L513.2 521.2 L514.5 525.2 L506.8 529.2 L495.6 534.0" fill="none" stroke="#cbcbcb" stroke-width="1.15"/>
<path d="M501.2 539.6 L523.6 529.2" fill="none" stroke="#cbcbcb" stroke-width="1.15"/>
<path d="M519.6 525.2 L542.0 536.4 L542.0 545.2 L542.4 545.6 L598.4 578.4" fill="none" stroke="#cbcbcb" stroke-width="1.15"/>
<path d="M512.4 551.6 L540.4 537.2" fill="none" stroke="#cbcbcb" stroke-width="1.15"/>
<path d="M522.0 547.6 L522.0 557.2 L528.4 560.4 L536.4 556.4 L536.4 546.8 L530.8 543.6 L524.4 547.6 L528.4 550.0 L536.4 546.8" fill="none" stroke="#cbcbcb" stroke-width="1.15"/>
<path d="M528.4 550.0 L528.4 560.4" fill="none" stroke="#cbcbcb" stroke-width="1.15"/>
<path d="M545.2 538.0 L520.0 524.8 L542.4 536.0 L612.8 571.2" fill="none" stroke="#cbcbcb" stroke-width="1.15"/>
<path d="M548.4 571.6 L553.2 570.0 L566.0 578.8" fill="none" stroke="#cbcbcb" stroke-width="1.15"/>
<path d="M575.2 606.4 L580.0 592.0 L585.6 586.4 L596.8 580.0 L612.8 571.2 L622.4 572.0" fill="none" stroke="#cbcbcb" stroke-width="1.15"/>
<path d="M585.6 586.4 L590.4 588.0 L587.2 595.2 L587.2 598.4 L581.6 605.6" fill="none" stroke="#cbcbcb" stroke-width="1.15"/>
<path d="M590.4 588.0 L599.2 591.2 L604.8 583.2 L609.6 580.0 L622.4 572.8 L625.6 574.4 L625.6 587.2" fill="none" stroke="#cbcbcb" stroke-width="1.15"/>
<path d="M599.2 591.2 L599.2 606.4" fill="none" stroke="#cbcbcb" stroke-width="1.15"/>
<path d="M587.2 598.4 L595.2 603.2 L595.2 607.7" fill="none" stroke="#cbcbcb" stroke-width="1.15"/>
<path d="M608.8 585.3 L609.6 580.0" fill="none" stroke="#cbcbcb" stroke-width="1.15"/>
<ellipse cx="581.6" cy="575.5" rx="6.1" ry="4.0" transform="rotate(15 581.6 575.5)" fill="none" stroke="#cbcbcb" stroke-width="1.15"/>
<path d="M431.4 575.6 L431.4 558.2" stroke="#c4c4c4" stroke-width="1.5" fill="none"/>
<path d="M431.4 549.7 L436.4 558.2 L426.4 558.2 Z" fill="#c4c4c4" stroke="none"/>
</svg>
<div class="banner"><svg width="794" height="55" viewBox="0 0 794 55">
<text x="5.6" y="22.1" font-size="19.2" stroke="#000" stroke-width="0.35" textLength="776.4" lengthAdjust="spacingAndGlyphs" fill="#000">Only one part or sub-assembly in diagram included. See Item Specifics for Reference #.</text>
<text x="5.6" y="45.2" font-size="19.2" stroke="#000" stroke-width="0.35" textLength="777.4" lengthAdjust="spacingAndGlyphs" fill="#000">Diagram may not be specific to your vehicle. See Compatibility for vehicle-specific diagrams.</text>
</svg></div>
</body></html>
